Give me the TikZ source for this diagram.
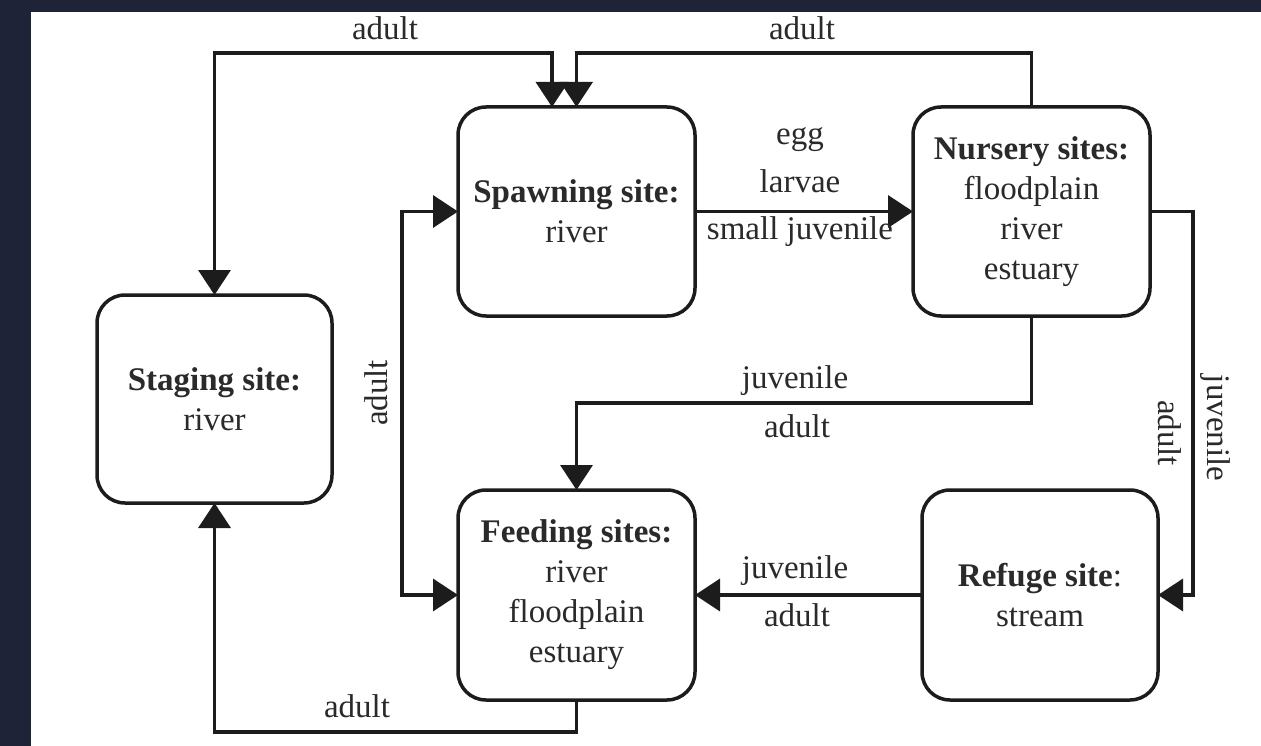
\documentclass[tikz,border=0pt]{standalone}
\usepackage{fontspec}
\setmainfont{Liberation Serif}
\usetikzlibrary{arrows.meta}
\definecolor{navy}{HTML}{1E2337}
\definecolor{ink}{HTML}{1C1C1C}
\definecolor{txt}{HTML}{2A2A2A}
\begin{document}
\begin{tikzpicture}[x=1pt,y=-1pt,
  site/.style={draw=ink, line width=3.5pt, rounded corners=28pt, fill=white, outer sep=0pt,
    align=center, text=txt, font=\fontsize{33}{40}\selectfont, inner sep=0pt},
  conn/.style={draw=ink, line width=3.5pt},
  arr/.style={conn, -{Triangle[length=25pt,width=32pt]}},
  both/.style={conn, {Triangle[length=25pt,width=32pt]}-{Triangle[length=25pt,width=32pt]}},
  lbl/.style={text=txt, font=\fontsize{33}{40}\selectfont, inner sep=0pt, anchor=base}]
% background
\fill[navy] (0,0) rectangle (1261,746);
\fill[white] (31,12) rectangle (1261,746);
\useasboundingbox (0,0) rectangle (1261,746);
% sites
\node[site, minimum width=237pt, minimum height=209pt] (spawn) at (576.5,211.5) {\textbf{Spawning site:}\\river};
\node[site, minimum width=237pt, minimum height=209pt] (nursery) at (1031.5,211.5) {\textbf{Nursery sites:}\\floodplain\\river\\estuary};
\node[site, minimum width=235pt, minimum height=208pt] (staging) at (214.5,399) {\textbf{Staging site:}\\river};
\node[site, minimum width=237pt, minimum height=210pt] (feeding) at (576.5,595) {\textbf{Feeding sites:}\\river\\floodplain\\estuary};
\node[site, minimum width=236pt, minimum height=210pt] (refuge) at (1040,595) {\textbf{Refuge site}:\\stream};
% helper coordinates
\coordinate (tl) at (552,53);
\coordinate (tr) at (576.5,53);
% connectors
\draw[both] (staging.north) |- (tl) -- (tl |- spawn.north);
\draw[arr] (nursery.north) |- (tr) -- (spawn.north);
\draw[arr] (spawn.east) -- (nursery.west);
\draw[both] (spawn.west) -- ++(-56,0) |- (feeding.west);
\draw[arr] (nursery.south) -- ++(0,87) -| (feeding.north);
\draw[arr] (nursery.east) -- ++(43,0) |- (refuge.east);
\draw[arr] (refuge.west) -- (feeding.east);
\draw[arr] (feeding.south) -- ++(0,32) -| (staging.south);
% labels
\node[lbl] (l1) at (385,40) {adult};
\node[lbl] (l2) at (802,40) {adult};
\node[lbl] (l3) at (800,145) {egg};
\node[lbl] (l4) at (800,193) {larvae};
\node[lbl] (l5) at (800,240) {small juvenile};
\node[lbl, anchor=center, rotate=90] (l6) at (376,393) {adult};
\node[lbl] (l7) at (795,388) {juvenile};
\node[lbl] (l8) at (797,437) {adult};
\node[lbl, anchor=center, rotate=-90] (l9) at (1170,433) {adult};
\node[lbl, anchor=center, rotate=-90] (l10) at (1215,428) {juvenile};
\node[lbl] (l11) at (795,578) {juvenile};
\node[lbl] (l12) at (797,626) {adult};
\node[lbl] (l13) at (357,717) {adult};
\end{tikzpicture}
\end{document}
